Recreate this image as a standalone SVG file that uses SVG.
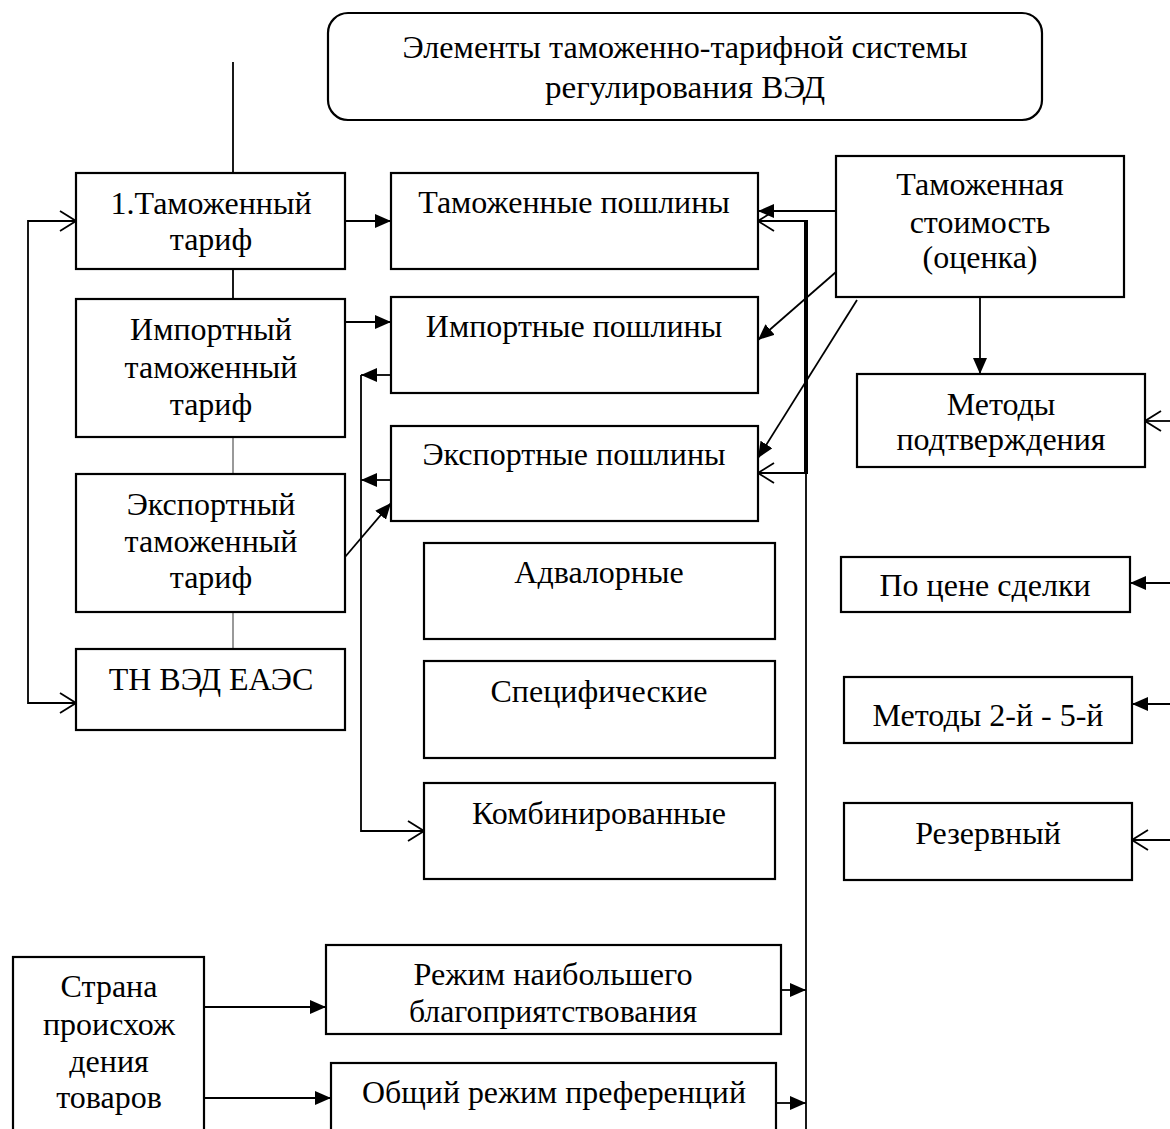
<svg xmlns="http://www.w3.org/2000/svg" width="1170" height="1129" viewBox="0 0 1170 1129">
<style>
.b{fill:#fff;stroke:#000;stroke-width:2.2}
.t{font-family:"Liberation Serif","Times New Roman",serif;font-size:32px;fill:#000;text-anchor:middle}
.c{fill:none;stroke:#000;stroke-width:1.8}
.g{fill:none;stroke:#777;stroke-width:1.5}
</style>
<defs>
<marker id="f" markerWidth="16" markerHeight="14" refX="16" refY="7" orient="auto" markerUnits="userSpaceOnUse"><path d="M0,0 L16,7 L0,14 z" fill="#000"/></marker>
<marker id="o" markerWidth="18" markerHeight="22" refX="17" refY="11" orient="auto-start-reverse" markerUnits="userSpaceOnUse"><path d="M1,1 L17,11 L1,21" fill="none" stroke="#000" stroke-width="1.8"/></marker>
</defs>
<g id="connectors">
<line class="c" x1="233" y1="62" x2="233" y2="173"/>
<line class="c" x1="233" y1="269" x2="233" y2="299"/>
<line class="g" x1="233" y1="437" x2="233" y2="474"/>
<line class="g" x1="233" y1="612" x2="233" y2="649"/>
<path class="c" d="M76,221 H28 V703 H76" marker-start="url(#o)" marker-end="url(#o)"/>
<path class="c" d="M345,221 H391" marker-end="url(#f)"/>
<path class="c" d="M345,322 H391" marker-end="url(#f)"/>
<path class="c" d="M345,557 L391,503" marker-end="url(#f)"/>
<path class="c" d="M391,375 H361" marker-end="url(#f)"/>
<path class="c" d="M391,480 H361" marker-end="url(#f)"/>
<path class="c" d="M361,375 V831 H424" marker-end="url(#o)"/>
<path class="c" d="M836,211 H758" marker-end="url(#f)"/>
<path class="c" d="M836,272 L758,340" marker-end="url(#f)"/>
<path class="c" d="M857,300 L758,458" marker-end="url(#f)"/>
<path class="c" d="M980,297 V374" marker-end="url(#f)"/>
<path class="c" d="M806,221 H758" marker-end="url(#o)"/>
<path class="c" d="M806,473 H758" marker-end="url(#o)"/>
<line x1="806" y1="220" x2="806" y2="474" stroke="#000" stroke-width="4"/>
<line class="c" x1="806" y1="473" x2="806" y2="1129"/>
<path class="c" d="M1170,421 H1145" marker-end="url(#o)"/>
<path class="c" d="M1170,583 H1130" marker-end="url(#f)"/>
<path class="c" d="M1170,704 H1132" marker-end="url(#f)"/>
<path class="c" d="M1170,840 H1132" marker-end="url(#o)"/>
<path class="c" d="M204,1007 H326" marker-end="url(#f)"/>
<path class="c" d="M204,1098 H331" marker-end="url(#f)"/>
<path class="c" d="M781,990 H806" marker-end="url(#f)"/>
<path class="c" d="M776,1103 H806" marker-end="url(#f)"/>
</g>
<g id="title"><rect class="b" x="328" y="13" width="714" height="107" rx="20"/><text class="t" x="685" y="58" textLength="565" lengthAdjust="spacingAndGlyphs">Элементы таможенно-тарифной системы</text><text class="t" x="685" y="98" textLength="280" lengthAdjust="spacingAndGlyphs">регулирования ВЭД</text></g>
<g id="tariff"><rect class="b" x="76" y="173" width="269" height="96"/><text class="t" x="211" y="214">1.Таможенный</text><text class="t" x="211" y="250">тариф</text></g>
<g id="import-tariff"><rect class="b" x="76" y="299" width="269" height="138"/><text class="t" x="211" y="340">Импортный</text><text class="t" x="211" y="378">таможенный</text><text class="t" x="211" y="415">тариф</text></g>
<g id="export-tariff"><rect class="b" x="76" y="474" width="269" height="138"/><text class="t" x="211" y="515">Экспортный</text><text class="t" x="211" y="552">таможенный</text><text class="t" x="211" y="588">тариф</text></g>
<g id="tnved"><rect class="b" x="76" y="649" width="269" height="81"/><text class="t" x="211" y="690">ТН ВЭД ЕАЭС</text></g>
<g id="duties"><rect class="b" x="391" y="173" width="367" height="96"/><text class="t" x="574" y="213">Таможенные пошлины</text></g>
<g id="import-duties"><rect class="b" x="391" y="297" width="367" height="96"/><text class="t" x="574" y="337">Импортные пошлины</text></g>
<g id="export-duties"><rect class="b" x="391" y="426" width="367" height="95"/><text class="t" x="574" y="465">Экспортные пошлины</text></g>
<g id="advalorem"><rect class="b" x="424" y="543" width="351" height="96"/><text class="t" x="599" y="583">Адвалорные</text></g>
<g id="specific"><rect class="b" x="424" y="661" width="351" height="97"/><text class="t" x="599" y="702">Специфические</text></g>
<g id="combined"><rect class="b" x="424" y="783" width="351" height="96"/><text class="t" x="599" y="824">Комбинированные</text></g>
<g id="customs-value"><rect class="b" x="836" y="156" width="288" height="141"/><text class="t" x="980" y="195">Таможенная</text><text class="t" x="980" y="233">стоимость</text><text class="t" x="980" y="268">(оценка)</text></g>
<g id="methods"><rect class="b" x="857" y="374" width="288" height="93"/><text class="t" x="1001" y="415">Методы</text><text class="t" x="1001" y="450">подтверждения</text></g>
<g id="transaction-price"><rect class="b" x="841" y="557" width="289" height="55"/><text class="t" x="985" y="596">По цене сделки</text></g>
<g id="methods-2-5"><rect class="b" x="844" y="677" width="288" height="66"/><text class="t" x="988" y="726">Методы 2-й - 5-й</text></g>
<g id="reserve"><rect class="b" x="844" y="803" width="288" height="77"/><text class="t" x="988" y="844">Резервный</text></g>
<g id="country"><rect class="b" x="13" y="957" width="191" height="180"/><text class="t" x="109" y="997">Страна</text><text class="t" x="109" y="1035">происхож</text><text class="t" x="109" y="1072">дения</text><text class="t" x="109" y="1108">товаров</text></g>
<g id="mfn"><rect class="b" x="326" y="945" width="455" height="89"/><text class="t" x="553" y="985" textLength="279" lengthAdjust="spacingAndGlyphs">Режим наибольшего</text><text class="t" x="553" y="1022" textLength="288" lengthAdjust="spacingAndGlyphs">благоприятствования</text></g>
<g id="gsp"><rect class="b" x="331" y="1063" width="445" height="80"/><text class="t" x="554" y="1103" textLength="384" lengthAdjust="spacingAndGlyphs">Общий режим преференций</text></g>
</svg>
